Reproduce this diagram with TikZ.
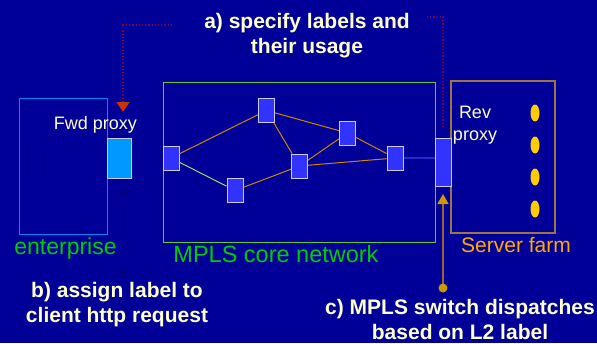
\documentclass[tikz,border=0pt]{standalone}
\usepackage{fontspec}
\setmainfont{Liberation Sans}
\usetikzlibrary{arrows.meta}
\definecolor{bgblue}{RGB}{0,0,153}
\definecolor{cream}{RGB}{255,255,204}
\definecolor{nodeblue}{RGB}{51,51,255}
\definecolor{edgegray}{RGB}{204,204,238}
\definecolor{linkgold}{RGB}{204,136,0}
\definecolor{linkgreen}{RGB}{153,221,102}
\definecolor{netgreen}{RGB}{102,204,51}
\definecolor{txtgreen}{RGB}{0,204,0}
\definecolor{entblue}{RGB}{0,136,255}
\definecolor{fwdblue}{RGB}{0,153,255}
\definecolor{farmtan}{RGB}{153,119,68}
\definecolor{farmorange}{RGB}{255,170,0}
\definecolor{dotyellow}{RGB}{255,204,0}
\definecolor{maroon}{RGB}{128,0,64}
\definecolor{tipred}{RGB}{204,51,0}
\definecolor{darknavy}{RGB}{0,0,128}
\definecolor{cgold}{RGB}{204,153,0}
\definecolor{cbrown}{RGB}{153,102,51}
\begin{document}
\begin{tikzpicture}[x=1pt,y=-1pt,
    netbox/.style={draw=edgegray,fill=nodeblue,line width=1pt,minimum width=16pt,minimum height=24pt,inner sep=0pt},
    link/.style={draw=linkgold,line width=1pt},
    note/.style={text=cream,font=\fontsize{21}{25}\selectfont\bfseries,align=center,inner sep=0pt},
    plain/.style={text=cream,font=\fontsize{18}{22}\selectfont,align=center,inner sep=0pt}]
    \fill[bgblue] (0,0) rectangle (597,343);
    \useasboundingbox (0,0) rectangle (597,343);

    \draw[entblue,line width=1pt] (19,98) rectangle (107,234);
    \draw[darknavy,line width=0.8pt] (27,145) rectangle (43,177);
    \draw[netgreen,line width=1pt] (163,82) rectangle (435,242);
    \draw[farmtan,line width=1.2pt] (451,81) rectangle (555,233);

    \node[netbox] (n1) at (171,158) {};
    \node[netbox] (n2) at (266.5,110.5) {};
    \node[netbox] (n3) at (235,190.5) {};
    \node[netbox] (n4) at (299.5,166) {};
    \node[netbox] (n5) at (347.5,133) {};
    \node[netbox] (n6) at (395,158) {};
    \node[netbox,minimum height=48pt] (sw) at (443,162) {};
    \node[draw=edgegray,fill=fwdblue,line width=1pt,minimum width=24pt,minimum height=40pt,inner sep=0pt] (fwd) at (119,158) {};

    \draw[link] (n1) -- (n2);
    \draw[linkgreen,line width=1pt] (n1) -- (n3);
    \draw[link] (n2) -- (n5);
    \draw[link] (n2) -- (n4);
    \draw[link] (n3) -- (n4);
    \draw[link] (n4) -- (n5);
    \draw[link] (n4) -- (n6);
    \draw[link] (n5) -- (n6);
    \draw[nodeblue!80!black,line width=1.2pt] (n6.east) -- (n6.east -| sw.west);

    \foreach \y in {113,145,177,209}
        \fill[dotyellow] (535,\y) ellipse [x radius=4.5pt,y radius=8.5pt];

    \node[plain,anchor=base] (fwdlbl) at (95.5,129) {Fwd proxy};
    \node[plain] (revlbl) at (475,125) {Rev\\proxy};
    \node[text=txtgreen,font=\fontsize{23}{26}\selectfont,anchor=base,inner sep=0pt] (entlbl) at (65.5,254) {enterprise};
    \node[text=txtgreen,font=\fontsize{23.5}{26}\selectfont,anchor=base,inner sep=0pt] (mplslbl) at (276,262) {MPLS core network};
    \node[text=farmorange,font=\fontsize{21}{24}\selectfont,anchor=base,inner sep=0pt] (farmlbl) at (516,252) {Server farm};

    \node[note] (notea) at (307,36) {a) specify labels and\\their usage};
    \node[note] (noteb) at (117,305) {b) assign label to\\client http request};
    \node[note] (notec) at (460,319) {c) MPLS switch dispatches\\based on L2 label};

    \coordinate (astart) at (172,25);
    \coordinate (aend) at (123,112);
    \draw[maroon,line width=1.2pt,dotted,-{Triangle[width=13pt,length=10pt,color=tipred]}] (astart) -| (aend);
    \coordinate (rstart) at (427,17);
    \coordinate (rend) at (443,128);
    \draw[maroon,line width=1.2pt,dotted] (rstart) -| (rend);

    \coordinate (bstart) at (123,273);
    \draw[darknavy,line width=1pt,-{Triangle[width=10pt,length=9pt]}] (bstart) -- (123,187);
    \fill[darknavy] (bstart) circle (4pt);

    \coordinate (cstart) at (443,288);
    \draw[cbrown,line width=1.5pt,-{Triangle[width=11pt,length=10pt,color=cgold]}] (cstart) -- (sw.south |- 0,194);
    \fill[cgold] (cstart) circle (4.5pt);
\end{tikzpicture}
\end{document}
